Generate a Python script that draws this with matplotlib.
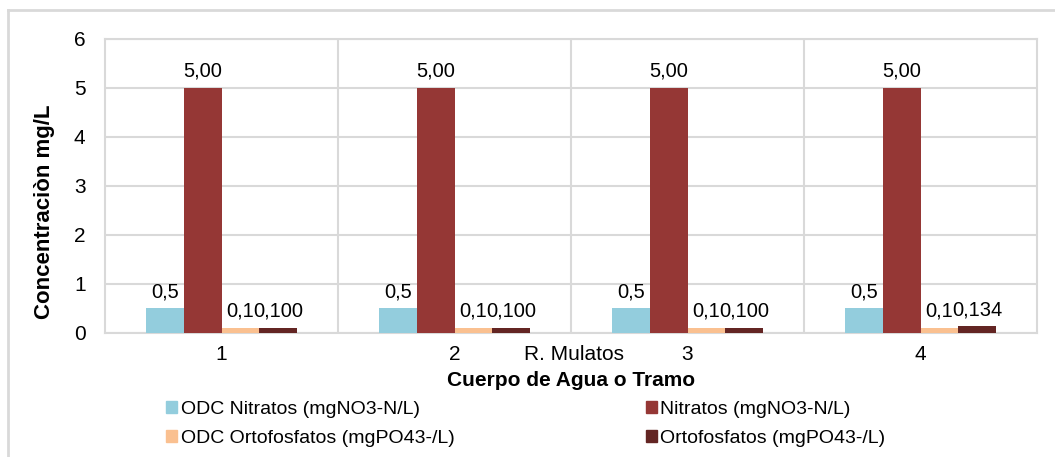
import matplotlib
matplotlib.use("Agg")
import matplotlib.pyplot as plt
import numpy as np
from matplotlib.lines import Line2D
from matplotlib.patches import Patch

plt.rcParams['font.family'] = ['Liberation Sans', 'DejaVu Sans']

# Datos
categorias = ['1', '2', '3', '4']
grupo = 'R. Mulatos'
series = ['ODC Nitratos (mgNO3-N/L)', 'Nitratos (mgNO3-N/L)',
          'ODC Ortofosfatos (mgPO43-/L)', 'Ortofosfatos (mgPO43-/L)']
odc_nitratos = [0.5, 0.5, 0.5, 0.5]
nitratos = [5.0, 5.0, 5.0, 5.0]
odc_ortofosfatos = [0.1, 0.1, 0.1, 0.1]
ortofosfatos = [0.100, 0.100, 0.100, 0.134]
formatos = ['{:.1f}', '{:.2f}', '{:.1f}', '{:.3f}']
colores = ['#93CDDD', '#953735', '#FAC090', '#632523']

valores = [odc_nitratos, nitratos, odc_ortofosfatos, ortofosfatos]

W, H = 1055, 457
fig = plt.figure(figsize=(W / 100, H / 100), dpi=100)
ax = fig.add_axes([105 / W, 1 - 332.7 / H, (1037 - 105) / W, (332.7 - 38.7) / H])

x = np.arange(len(categorias))
ancho = 0.162
gris = '#D9D9D9'

for i, (vals, col, fmt) in enumerate(zip(valores, colores, formatos)):
    pos = x + (i - 1.5) * ancho
    barras = ax.bar(pos, vals, ancho, color=col, label=series[i], zorder=3)
    etiquetas = [fmt.format(v).replace('.', ',') for v in vals]
    ax.bar_label(barras, labels=etiquetas, padding=5, fontsize=14.5)

ax.set_xlim(-0.5, 3.5)
ax.set_ylim(0, 6)
ax.set_yticks(range(0, 7))
ax.set_xticks(x)
ax.set_xticklabels(categorias)
ax.set_xticks(x[:-1] + 0.5, minor=True)
ax.tick_params(axis='both', which='both', length=0, labelsize=15)
ax.tick_params(axis='x', pad=9)
ax.tick_params(axis='y', pad=14)
ax.grid(axis='y', which='major', color=gris, linewidth=1.5, zorder=0)
ax.grid(axis='x', which='minor', color=gris, linewidth=1.5, zorder=0)
for s in ax.spines.values():
    s.set_color(gris)
    s.set_linewidth(1.5)

fig.text(574 / W, 1 - 355 / H, grupo, ha='center', va='center', fontsize=15)
fig.text(571 / W, 1 - 381 / H, 'Cuerpo de Agua o Tramo', ha='center', va='center',
         fontsize=15, fontweight='bold')
fig.text(45 / W, 1 - 212 / H, 'Concentraciòn mg/L', ha='center', va='center',
         rotation=90, fontsize=16, fontweight='bold')

# leyenda por filas (como en Excel)
orden = [0, 2, 1, 3]
handles = [Patch(color=colores[i]) for i in orden]
fig.legend(handles, [series[i] for i in orden], loc='upper left',
           bbox_to_anchor=(166 / W, 1 - 401 / H),
           ncol=2, frameon=False, fontsize=14, handlelength=0.55, handleheight=0.55,
           handletextpad=0.2, columnspacing=9.85, labelspacing=0.6, borderaxespad=0,
           borderpad=0)

# marco del grafico
fig.add_artist(Line2D([8 / W, 8 / W], [0, 1 - 10 / H], color=gris, linewidth=2))
fig.add_artist(Line2D([8 / W, 1], [1 - 10 / H, 1 - 10 / H], color=gris, linewidth=2))

fig.savefig('out.png', dpi=100)
